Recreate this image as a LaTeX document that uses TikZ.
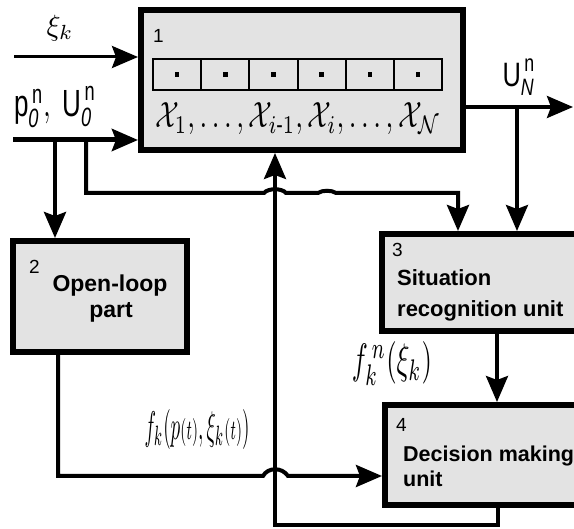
\documentclass[tikz,border=0pt]{standalone}
\usepackage{fontspec}
\setmainfont{Liberation Sans}
\usepackage{amsmath}
\usepackage{graphicx}
\usetikzlibrary{arrows.meta}
\definecolor{boxgray}{HTML}{E3E3E3}
\begin{document}
\begin{tikzpicture}[x=1pt,y=-1pt,
 blk/.style={draw=black, fill=boxgray, line width=6pt, inner sep=0pt, outer sep=3pt, rectangle},
 conn/.style={line width=3.5pt, -{Stealth[length=26pt,width=22pt,inset=4pt]}},
 num/.style={font=\fontsize{19}{19}\selectfont, anchor=base west, inner sep=0pt},
 btxt/.style={font=\fontsize{22}{22}\selectfont\bfseries, anchor=base west, inner sep=0pt},
 cellbox/.style={draw, line width=2pt, fill=boxgray, minimum width=48.2pt, minimum height=31pt, inner sep=0pt, outer sep=0pt},
 dotbox/.style={fill=black, minimum size=4.5pt, inner sep=0pt},
 lbl/.style={inner sep=0pt},
]
\useasboundingbox (0,0) rectangle (574,529);
\clip (0,0) rectangle (574,529);

% blocks
\node[blk, minimum width=322pt, minimum height=140pt] (b1) at (302,80) {};
\node[blk, minimum width=174pt, minimum height=111pt] (b2) at (100,296.5) {};
\node[blk, minimum width=218pt, minimum height=97pt] (b3) at (491,282.5) {};
\node[blk, minimum width=215pt, minimum height=100pt] (b4) at (492.5,455) {};

% cells of block 1
\foreach \i in {0,...,5}{
  \node[cellbox] (cell\i) at ({177.1+48.2*\i},74.5) {};
  \node[dotbox] (dot\i) at (cell\i.center) {};
}

% texts in blocks
\node[num] (n1) at (153,43) {1};
\node[lbl, anchor=west] (xs) at (155,119) {\resizebox*{285pt}{32pt}{$\mathcal{X}_1, \ldots, \mathcal{X}_{i\text{-}1}, \mathcal{X}_i, \ldots, \mathcal{X}_{\mathcal{N}}$}};
\node[num] (n2) at (29,274) {2};
\node[lbl, anchor=base, font=\fontsize{23}{23}\selectfont\bfseries] (t2a) at (110,292) {Open-loop};
\node[lbl, anchor=base, font=\fontsize{23}{23}\selectfont\bfseries] (t2b) at (111,318) {part};
\node[num] (n3) at (392,257) {3};
\node[btxt] (t3a) at (397,286) {Situation};
\node[btxt] (t3b) at (397,317) {recognition unit};
\node[num] (n4) at (396,432) {4};
\node[btxt, font=\fontsize{21.5}{21.5}\selectfont\bfseries] (t4a) at (403,462) {Decision making};
\node[btxt, font=\fontsize{21.5}{21.5}\selectfont\bfseries] (t4b) at (403,487) {unit};

% coordinates
\coordinate (xiin) at (14,57);
\coordinate (pin) at (13,140);
\coordinate (pA) at (55,140);
\coordinate (pB) at (86,140);
\coordinate (kA) at (86,193);
\coordinate (kB) at (458,193);
\coordinate (uB) at (517,107);
\coordinate (uout) at (573,107);
\coordinate (fA) at (58,476);
\coordinate (tA) at (497,400);
\coordinate (rA) at (498,525);
\coordinate (rB) at (275,525);

% labels
\node[lbl] (lxi) at (60,28) {\resizebox*{27pt}{26pt}{$\xi_k$}};
\node[lbl] (lp) at (55,107) {\resizebox*{82pt}{42pt}{$\text{p}_{\text{\itshape 0}}^{\,\text{n}},\ \text{U}_{\text{\itshape 0}}^{\,\text{n}}$}};
\node[lbl] (lu) at (519,77) {\resizebox*{33pt}{36pt}{$\text{U}_{\text{\itshape N}}^{\,\text{n}}$}};
\node[lbl] (lf) at (197,430) {\resizebox*{105pt}{40pt}{$f_k(p{\scriptstyle(t)},\xi_k{\scriptstyle(t)})$}};
\node[lbl] (lfn) at (392,364) {\resizebox*{80pt}{44pt}{$f_k^{\,n}(\xi_k)$}};

% connectors
\draw[conn, line width=3pt] (xiin) -- (b1.west |- xiin);
\draw[conn, line width=5pt] (pin) -- (b1.west |- pin);
\draw[conn, line width=4pt] (pA) -- (b2.north -| pA);
\draw[conn, line width=4pt] (pB) -- (kA) -- (264,193) .. controls (268,188) and (282,188) .. (286,193)
   -- (318,193) .. controls (322,190) and (332,190) .. (336,193) -- (kB) -- (b3.north -| kB);
\draw[conn] (b1.east |- uB) -- (uout);
\draw[conn] (uB) -- (b3.north -| uB);
\draw[conn, line width=4pt] (b2.south -| fA) -- (fA) -- (263,476) .. controls (268,467) and (282,467) .. (288,476) -- (b4.west |- fA);
\draw[conn] (b3.south -| tA) -- (b4.north -| tA);
\draw[conn] (b4.south -| rA) -- (rA) -- (rB) -- (b1.south -| rB);
\end{tikzpicture}
\end{document}
